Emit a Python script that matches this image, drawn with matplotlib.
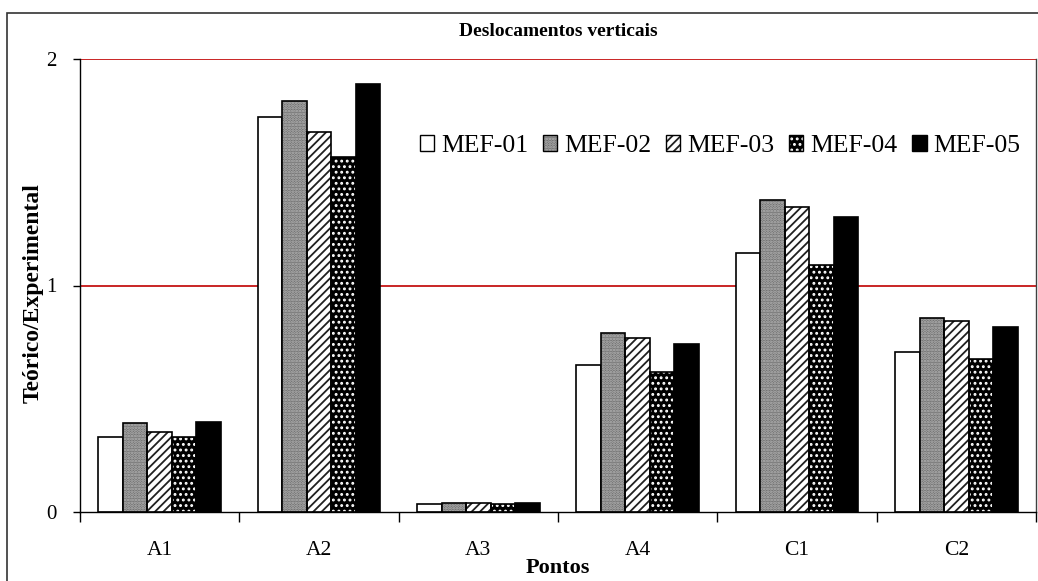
import matplotlib
matplotlib.use("Agg")
import matplotlib.pyplot as plt
from matplotlib.patches import Rectangle
from matplotlib.legend_handler import HandlerTuple
import numpy as np

categories = ["A1", "A2", "A3", "A4", "C1", "C2"]
series_names = ["MEF-01", "MEF-02", "MEF-03", "MEF-04", "MEF-05"]
mef01 = [0.33, 1.743, 0.035, 0.649, 1.145, 0.706]
mef02 = [0.394, 1.816, 0.040, 0.790, 1.376, 0.857]
mef03 = [0.355, 1.678, 0.040, 0.768, 1.348, 0.843]
mef04 = [0.330, 1.567, 0.034, 0.618, 1.089, 0.675]
mef05 = [0.396, 1.890, 0.041, 0.742, 1.304, 0.817]
y_ticks = [0, 1, 2]

series = [mef01, mef02, mef03, mef04, mef05]

plt.rcParams["font.family"] = ["Liberation Serif", "DejaVu Serif"]
plt.rcParams["hatch.linewidth"] = 1.3

W, H = 1038, 581
fig = plt.figure(figsize=(W / 100, H / 100), dpi=100)
ax = fig.add_axes([80 / W, 1 - 512 / H, (1036 - 80) / W, (512 - 59) / H])

# fill styles: (face, hatch colour, hatch)
styles = [
    ("white", None, None),
    ("#707070", "#b8b8b8", "......"),
    ("white", "#202020", "////"),
    ("black", "white", "..."),
    ("black", None, None),
]

n = len(series)
bar_w = 1.0 / (n + 1.5)
x = np.arange(len(categories))
offsets = (np.arange(n) - (n - 1) / 2) * bar_w

handles = []
for i, (vals, (face, hcol, hatch)) in enumerate(zip(series, styles)):
    xs = x + offsets[i]
    if hatch:
        ax.bar(xs, vals, width=bar_w, color=face, edgecolor=hcol, hatch=hatch,
               linewidth=0, zorder=3)
        ax.bar(xs, vals, width=bar_w, facecolor="none", edgecolor="black",
               linewidth=1.2, zorder=4)
        fill = Rectangle((0, 0), 1, 1, facecolor=face, edgecolor=hcol,
                         hatch=hatch, linewidth=0)
        outline = Rectangle((0, 0), 1, 1, facecolor="none", edgecolor="black",
                            linewidth=1.0)
        handles.append((fill, outline))
    else:
        ax.bar(xs, vals, width=bar_w, color=face, edgecolor="black",
               linewidth=1.2, zorder=3)
        handles.append(Rectangle((0, 0), 1, 1, facecolor=face,
                                 edgecolor="black", linewidth=1.0))

ax.set_xlim(-0.5, len(categories) - 0.5)
ax.set_ylim(0, 2)
ax.set_yticks(y_ticks)
ax.set_yticklabels([str(t) for t in y_ticks], fontsize=15)
ax.set_xticks(x)
ax.set_xticklabels(categories, fontsize=15.5)
ax.tick_params(axis="x", length=0, pad=21)
ax.set_xticks(np.arange(len(categories) + 1) - 0.5, minor=True)
ax.tick_params(axis="x", which="minor", length=7, width=1, direction="out")
ax.tick_params(axis="y", length=5, width=1, direction="out", pad=12)

for yv in [1, 2]:
    ax.axhline(yv, color="#c00000", linewidth=1.2, zorder=2)

ax.spines["top"].set_visible(False)
ax.spines["right"].set_color("#404040")
ax.spines["right"].set_linewidth(1.0)
ax.spines["left"].set_linewidth(1.0)
ax.spines["bottom"].set_linewidth(1.0)
ax.spines["bottom"].set_zorder(5)

fig.text(558 / W, 1 - 32 / H, "Deslocamentos verticais", ha="center", va="center",
         fontsize=14, fontweight="bold")
fig.text(33 / W, 1 - 293 / H, "Teórico/Experimental", ha="center", va="center",
         rotation=90, fontsize=17, fontweight="bold")
fig.text(558 / W, 1 - 568 / H, "Pontos", ha="center", va="center",
         fontsize=16, fontweight="bold")

leg = ax.legend(handles, series_names, ncol=5, frameon=False, fontsize=18.5,
                loc="center left", bbox_to_anchor=(420 / W, 1 - 146 / H),
                bbox_transform=fig.transFigure,
                handler_map={tuple: HandlerTuple(ndivide=1, pad=0)},
                handlelength=0.55, handleheight=0.55, handletextpad=0.27,
                columnspacing=0.58, borderaxespad=0, borderpad=0)

# outer frame of the chart area
fig.patches.append(Rectangle((7 / W, -0.05), 1.2, 1 - 13 / H + 0.05,
                             transform=fig.transFigure, fill=False,
                             edgecolor="#333333", linewidth=1.2))

fig.savefig("out.png", dpi=100)
